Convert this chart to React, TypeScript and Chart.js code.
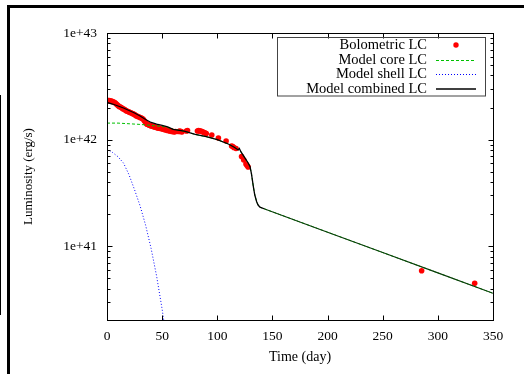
import React, { useEffect, useRef } from 'react';
import { Chart, registerables } from 'chart.js';

Chart.register(...registerables);

// ---- data ----
const bolDays = [0, 1, 2, 3, 4, 5, 6, 7, 8, 9, 10, 11, 12, 13, 14, 15, 16, 17, 18, 19, 20, 21, 22, 23, 24, 25, 26, 27, 28, 29, 30, 31, 32, 33, 34, 35, 36, 37, 38, 39, 40, 41, 42, 43, 44, 45, 46, 47, 48, 50, 51, 52, 53, 54, 55, 56, 57, 58, 59, 60, 61, 62, 65, 66, 67, 68, 72, 73, 82, 83, 84, 85, 86, 87, 88, 89, 90, 95, 101, 108, 113, 114, 115, 117, 122, 124, 126, 127, 128, 285.3, 333.4];
const bolLum = [2.305e42, 2.33e42, 2.33e42, 2.305e42, 2.305e42, 2.28e42, 2.255e42, 2.231e42, 2.183e42, 2.137e42, 2.092e42, 2.047e42, 2.025e42, 2.003e42, 1.961e42, 1.94e42, 1.919e42, 1.878e42, 1.858e42, 1.838e42, 1.818e42, 1.799e42, 1.779e42, 1.76e42, 1.741e42, 1.723e42, 1.686e42, 1.668e42, 1.65e42, 1.632e42, 1.615e42, 1.597e42, 1.58e42, 1.546e42, 1.497e42, 1.449e42, 1.404e42, 1.389e42, 1.374e42, 1.359e42, 1.344e42, 1.344e42, 1.33e42, 1.315e42, 1.315e42, 1.301e42, 1.287e42, 1.287e42, 1.274e42, 1.26e42, 1.26e42, 1.246e42, 1.233e42, 1.233e42, 1.22e42, 1.22e42, 1.207e42, 1.207e42, 1.194e42, 1.194e42, 1.181e42, 1.194e42, 1.194e42, 1.207e42, 1.194e42, 1.181e42, 1.207e42, 1.22e42, 1.207e42, 1.22e42, 1.207e42, 1.207e42, 1.194e42, 1.181e42, 1.168e42, 1.156e42, 1.144e42, 1.107e42, 1.037e42, 9.72e41, 8.73e41, 8.64e41, 8.45e41, 8.27e41, 6.96e41, 6.45e41, 5.92e41, 5.73e41, 5.55e41, 5.9e40, 4.5e40];

const combDays = [0, 5, 10, 15, 20, 25, 30, 35, 40, 45, 50, 55, 60, 70, 80, 90, 100, 110, 115, 119, 120, 121.5, 125, 128, 129.7, 131, 132.7, 134, 135.7, 137, 138.7, 143, 200, 250, 300, 350];
const combLum = [2.231e42, 2.16e42, 2.069e42, 1.982e42, 1.878e42, 1.779e42, 1.668e42, 1.546e42, 1.449e42, 1.4e42, 1.36e42, 1.32e42, 1.25e42, 1.2e42, 1.119e42, 1.067e42, 1.0e42, 9.11e41, 8.55e41, 8.01e41, 8.27e41, 7.67e41, 6.74e41, 6.05e41, 5.58e41, 4.77e41, 3.63e41, 3.03e41, 2.62e41, 2.44e41, 2.33e41, 2.24e41, 1.358e41, 8.75e40, 5.64e40, 3.63e40];

const coreDays = [0, 10, 20, 30, 35, 40, 45, 50, 55, 60, 70, 80, 90, 100, 110, 115, 119, 120, 121.5, 125, 128, 129.7, 131, 132.7, 134, 135.7, 137, 138.7, 143, 200, 250, 300, 350];
const coreLum = [1.43e42, 1.43e42, 1.41e42, 1.39e42, 1.375e42, 1.36e42, 1.345e42, 1.33e42, 1.3e42, 1.25e42, 1.2e42, 1.119e42, 1.067e42, 1.0e42, 9.11e41, 8.55e41, 8.01e41, 8.27e41, 7.67e41, 6.74e41, 6.05e41, 5.58e41, 4.77e41, 3.63e41, 3.03e41, 2.62e41, 2.44e41, 2.33e41, 2.24e41, 1.358e41, 8.75e40, 5.64e40, 3.63e40];

const shellDays = [0, 5, 10, 15, 20, 25, 30, 35, 40, 45, 50, 52];
const shellLum = [8.13e41, 7.59e41, 6.92e41, 6.03e41, 4.68e41, 3.39e41, 2.4e41, 1.58e41, 9.55e40, 5.25e40, 2.57e40, 1.86e40];

const xTicks = [0, 50, 100, 150, 200, 250, 300, 350];
const yMajorTicks = [1e41, 1e42, 1e43];
const yMinorFactors = [2, 3, 4, 5, 6, 7, 8, 9];
const yMin = 2.04e40;
const yMax = 1e43;

const legendLabels = ['Bolometric LC', 'Model core LC', 'Model shell LC', 'Model combined LC'];
const xTitle = 'Time (day)';
const yTitle = 'Luminosity (erg/s)';

const SERIF = '"Liberation Serif", "DejaVu Serif", serif';
const RED = '#ff0000';
const GREEN = '#00c000';
const BLUE = '#0000ff';
const TAIL = '#0b3a0b';

const toXY = (xs: number[], ys: number[]) => xs.map((x, i) => ({ x, y: ys[i] }));

const isPow10 = (v: number) => Math.abs(Math.log10(v) - Math.round(Math.log10(v))) < 1e-9;

function allYTicks(): number[] {
  const out: number[] = [];
  const decades = [1e40, ...yMajorTicks];
  decades.forEach((d) => {
    if (d >= yMin && d <= yMax) out.push(d);
    if (d < yMax) {
      yMinorFactors.forEach((f) => {
        const v = d * f;
        if (v >= yMin && v <= yMax) out.push(v);
      });
    }
  });
  return out.sort((a, b) => a - b);
}

const gnuplotPlugin = {
  id: 'gnuplotDecor',
  afterDraw(chart: any) {
    const ctx: CanvasRenderingContext2D = chart.ctx;
    const { left, right, top, bottom } = chart.chartArea;
    const xs = chart.scales.x;
    const ys = chart.scales.y;
    ctx.save();

    // blank strip at the right edge
    ctx.fillStyle = '#fff';
    ctx.fillRect(508, 9, 16, 365);

    // outer frame pieces of the picture
    ctx.fillStyle = '#000';
    ctx.fillRect(7, 5, 517, 3);
    ctx.fillRect(7, 5, 3, 369);
    ctx.fillRect(0, 95, 1, 220);

    // plot border
    const L = Math.round(left) + 0.5;
    const R = Math.round(right) + 0.5;
    const T = Math.round(top) + 0.5;
    const B = Math.round(bottom) + 0.5;
    ctx.strokeStyle = '#000';
    ctx.lineWidth = 1;
    ctx.strokeRect(L, T, R - L, B - T);

    // ticks (inward, mirrored)
    ctx.beginPath();
    xTicks.forEach((v) => {
      const px = Math.round(xs.getPixelForValue(v)) + 0.5;
      ctx.moveTo(px, B);
      ctx.lineTo(px, B - 5);
      ctx.moveTo(px, T);
      ctx.lineTo(px, T + 5);
    });
    allYTicks().forEach((v) => {
      const len = isPow10(v) ? 5 : 3;
      const py = Math.round(ys.getPixelForValue(v)) + 0.5;
      ctx.moveTo(L, py);
      ctx.lineTo(L + len, py);
      ctx.moveTo(R, py);
      ctx.lineTo(R - len, py);
    });
    ctx.stroke();

    // legend
    ctx.strokeStyle = '#444';
    ctx.strokeRect(277.5, 37.5, 208, 58.5);
    const rows = [45, 59.5, 74, 89];
    ctx.fillStyle = '#000';
    ctx.font = '14.5px ' + SERIF;
    ctx.textAlign = 'right';
    ctx.textBaseline = 'middle';
    legendLabels.forEach((t, i) => ctx.fillText(t, 427, rows[i] + 0.5));
    // sample: points
    ctx.fillStyle = RED;
    ctx.beginPath();
    ctx.arc(456, rows[0], 2.7, 0, Math.PI * 2);
    ctx.fill();
    // sample: core
    ctx.lineWidth = 1;
    ctx.strokeStyle = GREEN;
    ctx.setLineDash([3, 2]);
    ctx.beginPath();
    ctx.moveTo(436, Math.round(rows[1]) + 0.5);
    ctx.lineTo(476, Math.round(rows[1]) + 0.5);
    ctx.stroke();
    // sample: shell
    ctx.strokeStyle = BLUE;
    ctx.setLineDash([1, 2]);
    ctx.beginPath();
    ctx.moveTo(436, Math.round(rows[2]) + 0.5);
    ctx.lineTo(476, Math.round(rows[2]) + 0.5);
    ctx.stroke();
    // sample: combined
    ctx.strokeStyle = '#000';
    ctx.setLineDash([]);
    ctx.lineWidth = 1.3;
    ctx.beginPath();
    ctx.moveTo(436, rows[3]);
    ctx.lineTo(476, rows[3]);
    ctx.stroke();

    // axis titles
    ctx.fillStyle = '#000';
    ctx.textAlign = 'center';
    ctx.textBaseline = 'middle';
    ctx.font = '14px ' + SERIF;
    ctx.fillText(xTitle, (left + right) / 2, 357);
    ctx.save();
    ctx.translate(29, (top + bottom) / 2);
    ctx.rotate(-Math.PI / 2);
    ctx.font = '13px ' + SERIF;
    ctx.fillText(yTitle, 0, 0);
    ctx.restore();

    ctx.restore();
  },
};

export default function App() {
  const ref = useRef<HTMLCanvasElement | null>(null);

  useEffect(() => {
    if (!ref.current) return;
    const chart = new Chart(ref.current, {
      type: 'line',
      data: {
        datasets: [
          {
            label: legendLabels[3],
            data: toXY(combDays, combLum),
            borderColor: '#000',
            borderWidth: 1.3,
            pointRadius: 0,
            order: 1,
            clip: 0,
            segment: {
              borderColor: (c: any) => (c.p0.parsed.x >= 140 ? TAIL : '#000'),
              borderWidth: (c: any) => (c.p0.parsed.x >= 140 ? 1.1 : 1.3),
            },
          } as any,
          {
            label: legendLabels[2],
            data: toXY(shellDays, shellLum),
            borderColor: BLUE,
            borderWidth: 1,
            borderDash: [1, 2],
            pointRadius: 0,
            order: 2,
            clip: 0,
          },
          {
            label: legendLabels[1],
            data: toXY(coreDays, coreLum),
            borderColor: GREEN,
            borderWidth: 1,
            borderDash: [3, 2],
            pointRadius: 0,
            order: 3,
            clip: 0,
          },
          {
            label: legendLabels[0],
            data: toXY(bolDays, bolLum),
            showLine: false,
            pointRadius: 2.8,
            pointBackgroundColor: RED,
            pointBorderColor: RED,
            pointBorderWidth: 0,
            order: 4,
            clip: 0,
          },
        ],
      },
      options: {
        responsive: false,
        animation: false,
        events: [],
        layout: { padding: { left: 0, top: 33, right: 31, bottom: 0 } },
        elements: { line: { tension: 0 } },
        plugins: {
          legend: { display: false },
          tooltip: { enabled: false },
          title: { display: false },
        },
        scales: {
          x: {
            type: 'linear',
            min: 0,
            max: 350,
            afterFit: (s: any) => {
              s.height = 54;
            },
            afterBuildTicks: (s: any) => {
              s.ticks = xTicks.map((v) => ({ value: v }));
            },
            grid: { display: false, drawTicks: false },
            border: { display: false },
            ticks: {
              font: { family: SERIF, size: 13.5 },
              color: '#000',
              padding: 8,
              maxRotation: 0,
              autoSkip: false,
            },
          },
          y: {
            type: 'logarithmic',
            min: yMin,
            max: yMax,
            afterFit: (s: any) => {
              s.width = 107;
            },
            afterBuildTicks: (s: any) => {
              s.ticks = allYTicks().map((v) => ({ value: v }));
            },
            grid: { display: false, drawTicks: false },
            border: { display: false },
            ticks: {
              font: { family: SERIF, size: 13.5 },
              color: '#000',
              padding: 10,
              autoSkip: false,
              callback: (v: any) => {
                const n = Number(v);
                return isPow10(n) ? '1e+' + Math.round(Math.log10(n)) : '';
              },
            },
          },
        },
      } as any,
      plugins: [gnuplotPlugin],
    });
    return () => chart.destroy();
  }, []);

  return (
    <div style={{ position: 'fixed', left: 0, top: 0, width: 524, height: 374, background: '#fff', overflow: 'hidden' }}>
      <canvas ref={ref} width={524} height={374} style={{ width: 524, height: 374, display: 'block' }} />
    </div>
  );
}
